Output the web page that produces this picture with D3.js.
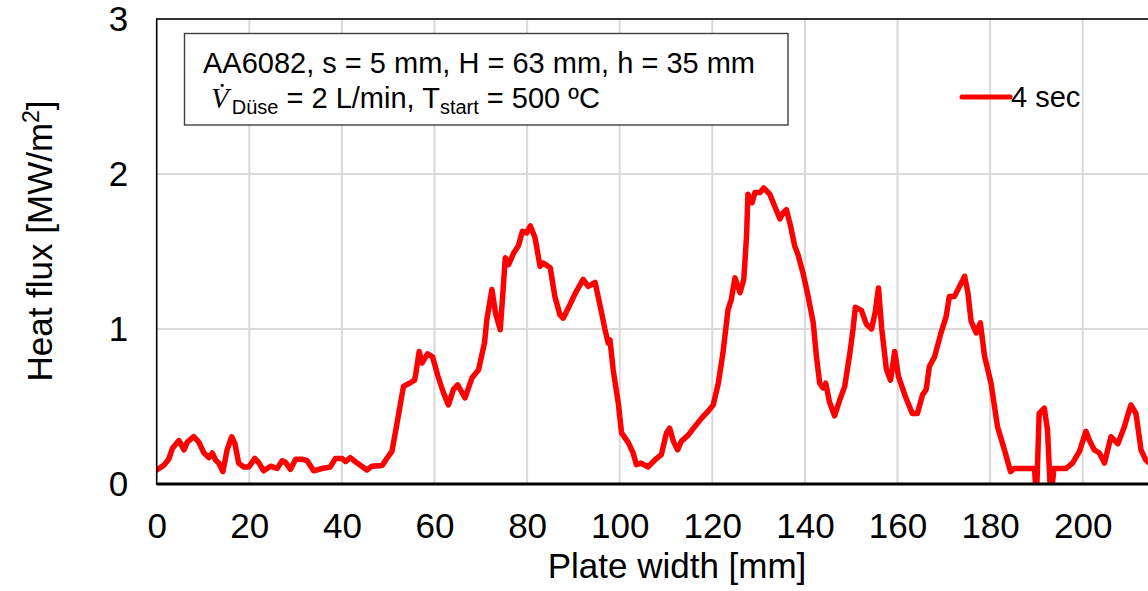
<!DOCTYPE html>
<html>
<head>
<meta charset="utf-8">
<script src="https://cdn.jsdelivr.net/npm/d3@7"></script>
<style>
  body { margin: 0; background: #fff; }
  svg { display: block; font-family: "Liberation Sans", Arial, sans-serif; }
</style>
</head>
<body>
<div id="chart"></div>
<script>
// data (heat flux profile, 4 sec)
const plateWidth = [
  0, 1.5, 2.6, 3.4, 4.8, 5.9, 6.6, 8.0, 9.1, 10.2, 11.3, 12.0, 12.7, 13.4, 14.3, 15.2, 16.2, 16.9, 17.7, 18.8,
  19.9, 21.2, 22.1, 23.1, 24.6, 26.0, 27.1, 27.8, 28.9, 30.0, 31.4, 32.5, 33.9, 35.7, 37.5, 38.6, 40.0, 40.8, 41.8, 43.3,
  45.4, 46.5, 48.7, 49.7, 50.8, 51.9, 53.3, 54.6, 55.7, 56.0, 56.7, 57.3, 58.5, 59.6, 60.7, 61.8, 63.0, 64.1, 65.0, 66.6,
  68.1, 69.5, 70.8, 71.3, 72.4, 73.2, 74.2, 75.3, 76.0, 77.1, 78.1, 79.0, 79.9, 80.7, 81.7, 82.8, 83.5, 85.0, 86.0, 87.1,
  87.8, 88.9, 90.4, 92.1, 93.2, 94.7, 95.8, 96.8, 97.5, 97.9, 98.6, 99.7, 100.4, 101.9, 102.9, 103.6, 104.6, 106.1, 107.6, 109.0,
  110.1, 110.8, 111.6, 112.5, 113.3, 114.8, 116.2, 117.7, 119.1, 120.2, 121.3, 122.3, 123.4, 124.1, 124.9, 126.0, 126.8, 127.4, 127.7, 128.6,
  129.2, 130.3, 131.1, 132.4, 133.5, 134.6, 135.3, 136.0, 136.9, 137.8, 138.5, 139.6, 140.7, 141.8, 142.5, 143.2, 143.9, 144.5, 145.3, 146.4,
  147.5, 148.6, 149.7, 150.4, 150.9, 152.2, 153.3, 154.4, 155.2, 155.9, 156.6, 157.6, 158.5, 159.4, 160.2, 161.7, 163.2, 164.3, 165.4, 166.2,
  166.9, 168.0, 169.4, 170.5, 171.2, 172.3, 173.4, 174.5, 175.2, 175.9, 177.0, 177.9, 178.8, 180.2, 181.6, 183.1, 184.4, 185.2, 189.6, 190.0,
  190.6, 191.7, 192.4, 193.1, 193.8, 196.4, 197.8, 199.3, 200.7, 201.4, 202.5, 203.6, 204.7, 206.1, 207.6, 209.0, 210.4, 211.5, 212.6, 213.6,
  215, 218
];
const heatFlux4s = [
  0.09, 0.12, 0.16, 0.23, 0.28, 0.22, 0.27, 0.305, 0.27, 0.20, 0.17, 0.20, 0.155, 0.135, 0.08, 0.22, 0.305, 0.26, 0.135, 0.11,
  0.11, 0.165, 0.135, 0.085, 0.115, 0.10, 0.15, 0.14, 0.095, 0.16, 0.16, 0.15, 0.085, 0.10, 0.11, 0.165, 0.165, 0.145, 0.17, 0.135,
  0.09, 0.115, 0.12, 0.165, 0.21, 0.39, 0.63, 0.65, 0.67, 0.72, 0.855, 0.78, 0.84, 0.82, 0.70, 0.60, 0.51, 0.61, 0.64, 0.555,
  0.685, 0.735, 0.91, 1.06, 1.255, 1.10, 0.995, 1.46, 1.415, 1.49, 1.535, 1.63, 1.62, 1.665, 1.59, 1.405, 1.425, 1.395, 1.21, 1.09,
  1.07, 1.135, 1.23, 1.32, 1.275, 1.30, 1.145, 1.0, 0.91, 0.93, 0.735, 0.52, 0.33, 0.265, 0.20, 0.125, 0.135, 0.11, 0.155, 0.19,
  0.33, 0.36, 0.275, 0.22, 0.275, 0.315, 0.37, 0.425, 0.47, 0.51, 0.65, 0.845, 1.125, 1.19, 1.33, 1.235, 1.32, 1.60, 1.87, 1.815,
  1.88, 1.88, 1.91, 1.87, 1.79, 1.71, 1.75, 1.77, 1.665, 1.535, 1.48, 1.36, 1.21, 1.04, 0.82, 0.65, 0.62, 0.65, 0.53, 0.44,
  0.54, 0.63, 0.84, 1.00, 1.14, 1.12, 1.03, 1.0, 1.11, 1.265, 1.0, 0.74, 0.67, 0.855, 0.695, 0.565, 0.455, 0.455, 0.575, 0.61,
  0.76, 0.82, 0.975, 1.08, 1.21, 1.21, 1.275, 1.34, 1.235, 1.05, 0.975, 1.04, 0.825, 0.65, 0.37, 0.22, 0.08, 0.10, 0.10, -0.1,
  0.455, 0.49, 0.35, -0.1, 0.10, 0.10, 0.135, 0.21, 0.34, 0.285, 0.22, 0.20, 0.135, 0.305, 0.26, 0.37, 0.51, 0.455, 0.22, 0.155,
  0.12, 0.10
];
const xTicks = [0, 20, 40, 60, 80, 100, 120, 140, 160, 180, 200];
const yTicks = [0, 1, 2, 3];
const seriesName = "4 sec";

// layout constants
const w = 1148;
const h = 591;
const plotLeft = 156.7;
const plotTop = 19;
const plotBottom = 484;
const plotRight = plotLeft + 4.63 * 240;   // runs past the window edge, like the reference

const data = plateWidth.map((x, i) => ({ x, y: heatFlux4s[i] }));

// scales
const xScale = d3.scaleLinear()
  .domain([0, 240])
  .range([plotLeft, plotRight]);

const yScale = d3.scaleLinear()
  .domain([0, 3])
  .range([plotBottom, plotTop]);

const svg = d3.select("#chart").append("svg")
  .attr("width", w)
  .attr("height", h);

svg.append("defs").append("clipPath")
  .attr("id", "plot-clip")
  .append("rect")
  .attr("x", plotLeft)
  .attr("y", plotTop)
  .attr("width", plotRight - plotLeft)
  .attr("height", plotBottom - plotTop);

// gridlines
svg.append("g")
  .selectAll("line")
  .data(xTicks.filter(d => d > 0))
  .join("line")
  .attr("x1", d => xScale(d))
  .attr("x2", d => xScale(d))
  .attr("y1", plotTop)
  .attr("y2", plotBottom)
  .attr("stroke", "#d9d9d9")
  .attr("stroke-width", 2);

svg.append("g")
  .selectAll("line")
  .data(yTicks.filter(d => d > 0 && d < 3))
  .join("line")
  .attr("x1", plotLeft)
  .attr("x2", plotRight)
  .attr("y1", d => yScale(d))
  .attr("y2", d => yScale(d))
  .attr("stroke", "#d9d9d9")
  .attr("stroke-width", 2);

// the heat flux curve
const line = d3.line()
  .x(d => xScale(d.x))
  .y(d => yScale(d.y));

svg.append("path")
  .datum(data)
  .attr("clip-path", "url(#plot-clip)")
  .attr("d", line)
  .attr("fill", "none")
  .attr("stroke", "#ff0000")
  .attr("stroke-width", 5.5)
  .attr("stroke-linejoin", "round")
  .attr("stroke-linecap", "round");

// plot frame
svg.append("rect")
  .attr("x", plotLeft)
  .attr("y", plotTop)
  .attr("width", plotRight - plotLeft)
  .attr("height", plotBottom - plotTop)
  .attr("fill", "none")
  .attr("stroke", "#000")
  .attr("stroke-width", 1.6);

svg.append("line")
  .attr("x1", plotLeft)
  .attr("x2", plotRight)
  .attr("y1", plotBottom)
  .attr("y2", plotBottom)
  .attr("stroke", "#000")
  .attr("stroke-width", 2.8);

// axes (labels only, frame drawn above)
const xAxis = d3.axisBottom(xScale)
  .tickValues(xTicks)
  .tickFormat(d3.format("d"))
  .tickSize(0)
  .tickPadding(29);

const yAxis = d3.axisLeft(yScale)
  .tickValues(yTicks)
  .tickFormat(d3.format("d"))
  .tickSize(0)
  .tickPadding(28.5);

const gx = svg.append("g")
  .attr("transform", `translate(0,${plotBottom})`)
  .call(xAxis);

const gy = svg.append("g")
  .attr("transform", `translate(${plotLeft},0)`)
  .call(yAxis);

[gx, gy].forEach(g => {
  g.select(".domain").remove();
  g.selectAll("text")
    .attr("fill", "#000")
    .style("font-family", "'Liberation Sans', Arial, sans-serif")
    .style("font-size", "35px");
});

// axis titles
svg.append("text")
  .attr("x", 677)
  .attr("y", 578)
  .attr("text-anchor", "middle")
  .style("font-size", "35px")
  .text("Plate width [mm]");

const yTitle = svg.append("text")
  .attr("transform", "translate(52,241) rotate(-90)")
  .attr("text-anchor", "middle")
  .style("font-size", "35px");
yTitle.append("tspan").text("Heat flux [MW/m");
yTitle.append("tspan").attr("dy", -13).style("font-size", "23px").text("2");
yTitle.append("tspan").attr("dy", 13).text("]");

// info box
svg.append("rect")
  .attr("x", 184.5)
  .attr("y", 33.5)
  .attr("width", 603.5)
  .attr("height", 91.5)
  .attr("fill", "#fff")
  .attr("stroke", "#404040")
  .attr("stroke-width", 1.4);

svg.append("text")
  .attr("x", 203)
  .attr("y", 73)
  .style("font-size", "29px")
  .text("AA6082, s = 5 mm, H = 63 mm, h = 35 mm");

const info2 = svg.append("text")
  .attr("x", 211)
  .attr("y", 108)
  .style("font-size", "29px");
info2.append("tspan")
  .style("font-family", "'Liberation Serif', 'Times New Roman', serif")
  .style("font-style", "italic")
  .text("V\u0307");
info2.append("tspan").attr("dx", 3).attr("dy", 6).style("font-size", "20px").text("Düse");
info2.append("tspan").attr("dy", -6).text(" = 2 L/min, T");
info2.append("tspan").attr("dy", 6).style("font-size", "20px").text("start");
info2.append("tspan").attr("dy", -6).text(" = 500 ºC");

// series legend
svg.append("line")
  .attr("x1", 962)
  .attr("x2", 1010)
  .attr("y1", 97)
  .attr("y2", 97)
  .attr("stroke", "#ff0000")
  .attr("stroke-width", 5)
  .attr("stroke-linecap", "round");

svg.append("text")
  .attr("x", 1011)
  .attr("y", 107)
  .style("font-size", "29px")
  .text(seriesName);
</script>
</body>
</html>
